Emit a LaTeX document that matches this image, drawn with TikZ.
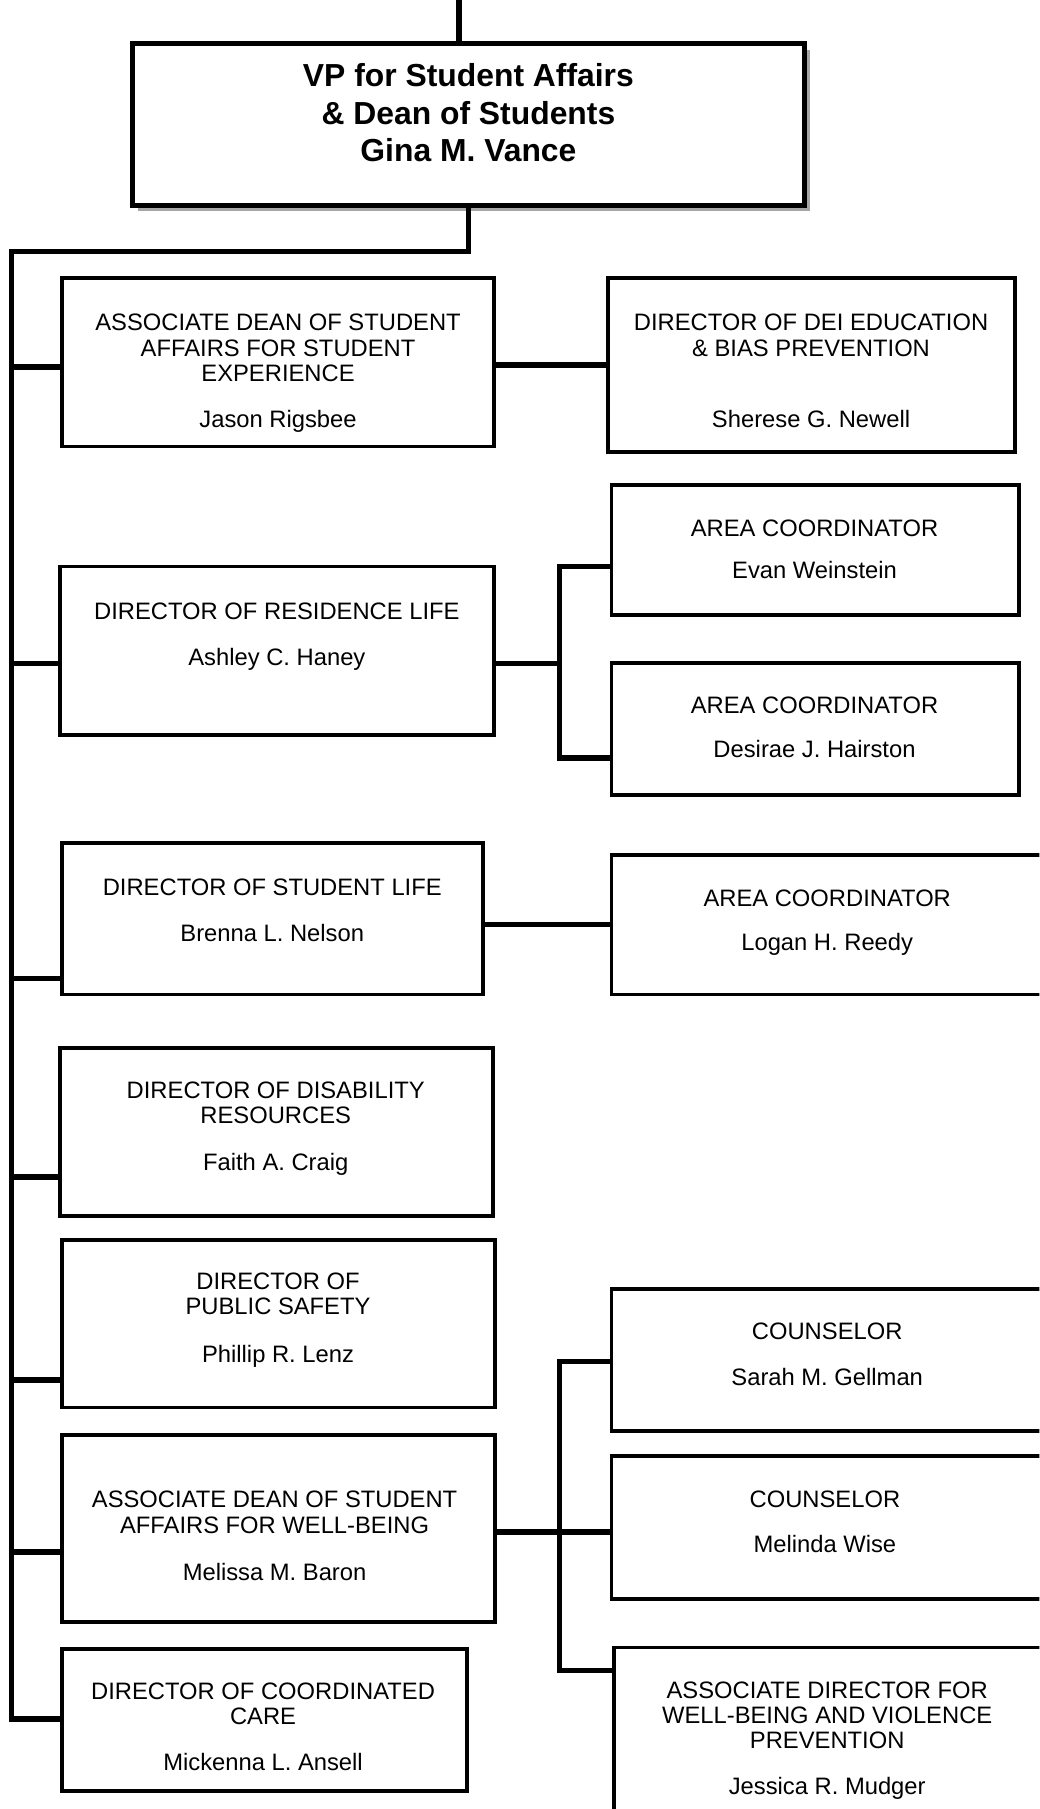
\documentclass[tikz,border=0pt]{standalone}
\usepackage{fontspec}
\setmainfont{Liberation Sans}
\usetikzlibrary{fit,shadows}

\begin{document}
\begin{tikzpicture}[x=0.5pt,y=-0.5pt,
	box/.style={draw,line width=1.7pt,fill=white,inner sep=0pt},
	link/.style={line width=2.4pt},
	txt/.style={align=center,anchor=north,inner sep=0pt,font=\fontsize{10.3}{11}\selectfont},
	ttl/.style={align=center,anchor=north,inner sep=0pt,font=\fontsize{13.8}{16.2}\selectfont\bfseries}]
			\useasboundingbox (0,0) rectangle (901,1568);
			\clip (0,0) rectangle (901,1568);
			
			\node[box,line width=2.2pt,drop shadow={shadow xshift=2.5pt,shadow yshift=-2.5pt,fill=gray!70,opacity=1},fit={(115,38) (697,178)}] (vp) {};
			\node[ttl] (vpt) at (406,55) {VP for Student Affairs\\\& Dean of Students\\Gina M. Vance};
			
			\node[box,fit={(54,241) (428,387)}] (exp) {};
			\node[txt] (expt) at (241,272) {ASSOCIATE DEAN OF STUDENT\\AFFAIRS FOR STUDENT\\EXPERIENCE\\[9pt]Jason Rigsbee};
			\node[box,fit={(527,241) (880,392)}] (dei) {};
			\node[txt] (deit) at (703,272) {DIRECTOR OF DEI EDUCATION\\\& BIAS PREVENTION\\[20pt]Sherese G. Newell};
			
			\node[box,fit={(52,491) (428,637)}] (res) {};
			\node[txt] (rest) at (240,522) {DIRECTOR OF RESIDENCE LIFE\\[9pt]Ashley C. Haney};
			\node[box,fit={(530,420) (883,533)}] (ac1) {};
			\node[txt] (ac1t) at (706,450) {AREA COORDINATOR\\[7.5pt]Evan Weinstein};
			\node[box,fit={(530,575) (883,689)}] (ac2) {};
			\node[txt] (ac2t) at (706,604) {AREA COORDINATOR\\[8pt]Desirae J. Hairston};
			
			\node[box,fit={(54,731) (419,862)}] (stu) {};
			\node[txt] (stut) at (236,761) {DIRECTOR OF STUDENT LIFE\\[9pt]Brenna L. Nelson};
			\node[box,fit={(530,741) (915,862)}] (ac3) {};
			\node[txt] (ac3t) at (717,771) {AREA COORDINATOR\\[8pt]Logan H. Reedy};
			
			\node[box,fit={(52,908) (427,1054)}] (dis) {};
			\node[txt] (dist) at (239,937) {DIRECTOR OF DISABILITY\\RESOURCES\\[9.5pt]Faith A. Craig};
			\node[box,fit={(54,1075) (429,1220)}] (pub) {};
			\node[txt] (pubt) at (241,1103) {DIRECTOR OF\\PUBLIC SAFETY\\[9.5pt]Phillip R. Lenz};
			
			\node[box,fit={(54,1244) (429,1406)}] (wel) {};
			\node[txt] (welt) at (238,1292) {ASSOCIATE DEAN OF STUDENT\\AFFAIRS FOR WELL-BEING\\[9.5pt]Melissa M. Baron};
			\node[box,fit={(54,1429) (405,1552)}] (coo) {};
			\node[txt] (coot) at (228,1458) {DIRECTOR OF COORDINATED\\CARE\\[9pt]Mickenna L. Ansell};
			
			\node[box,fit={(530,1117) (915,1240)}] (co1) {};
			\node[txt] (co1t) at (717,1146) {COUNSELOR\\[9pt]Sarah M. Gellman};
			\node[box,fit={(530,1262) (915,1386)}] (co2) {};
			\node[txt] (co2t) at (715,1292) {COUNSELOR\\[8.5pt]Melinda Wise};
			\node[box,fit={(532,1428) (915,1590)}] (adv) {};
			\node[txt] (advt) at (717,1457) {ASSOCIATE DIRECTOR FOR\\WELL-BEING AND VIOLENCE\\PREVENTION\\[9pt]Jessica R. Mudger};
			
			\coordinate (top) at (398,0);
			\coordinate (tk) at (10,218);
			\coordinate (b-coo) at (10,1490);
			\draw[link] (top) -- (top |- vp.north);
			\draw[link] (vp.south) |- (tk) -- (b-coo) -- (b-coo -| coo.west);
			\foreach \y/\n in {318/exp,575/res,848/stu,1020/dis,1196/pub,1345/wel}
			\draw[link] (10,\y) coordinate (b-\n) -- (b-\n -| \n.west);
			
			\draw[link] (exp.east |- dei.west) -- (dei.west);
			
			\coordinate (rj) at (485,575);
			\coordinate (r1) at (485,491);
			\coordinate (r2) at (485,657);
			\draw[link] (res.east |- rj) -- (rj);
			\draw[link] (ac1.west |- r1) -- (r1) -- (r2) -- (ac2.west |- r2);
			
			\draw[link] (stu.east |- ac3.west) -- (ac3.west);
			
			\coordinate (wj) at (485,1328);
			\coordinate (w1) at (485,1180);
			\coordinate (w3) at (485,1448);
			\draw[link] (wel.east |- wj) -- (wj) -- (co2.west |- wj);
			\draw[link] (co1.west |- w1) -- (w1) -- (w3) -- (adv.west |- w3);
\end{tikzpicture}
\end{document}
